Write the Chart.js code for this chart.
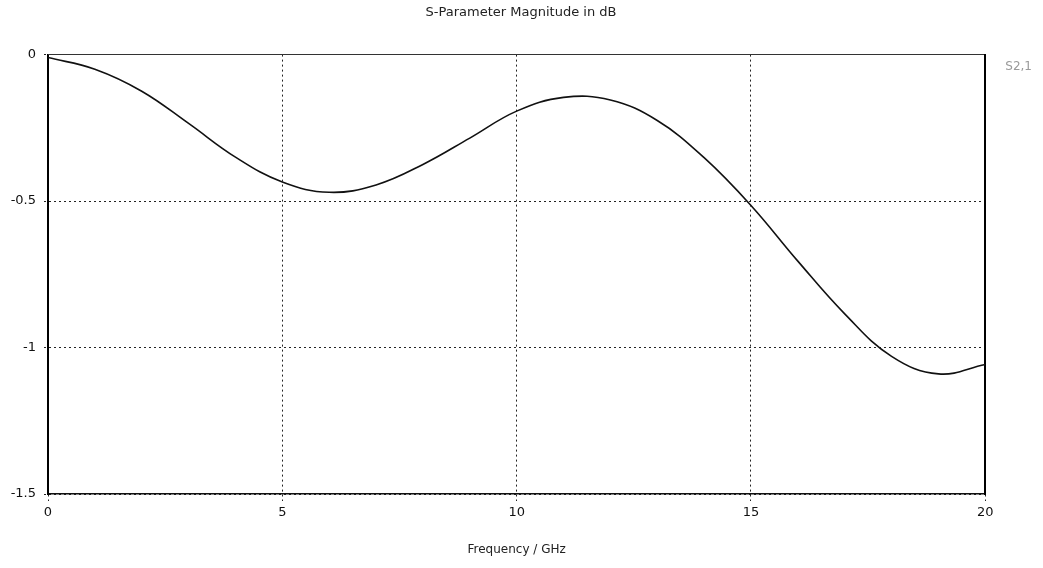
<!DOCTYPE html>
<html>
<head>
<meta charset="utf-8">
<script src="https://cdn.jsdelivr.net/npm/chart.js@4/dist/chart.umd.min.js"></script>
<style>
    body { margin: 0; background: #fff; }
    canvas { display: block; }
</style>
</head>
<body>
<canvas id="sparamChart" width="1043" height="568"></canvas>
<script>
// values, one per GHz
const freqs = [0, 1, 2, 3, 4, 5, 6, 7, 8, 9, 10, 11, 12, 13, 14, 15, 16, 17, 18, 19, 20];
const s21 = [-0.01, -0.05, -0.125, -0.235, -0.35, -0.435, -0.47, -0.445, -0.375, -0.285, -0.193,
    -0.146, -0.155, -0.225, -0.352, -0.515, -0.705, -0.885, -1.03, -1.09, -1.058];
const seriesLabel = 'S2,1';
const xTicks = [0, 5, 10, 15, 20];
const yTicks = [0, -0.5, -1, -1.5];

const points = freqs.map((f, i) => ({ x: f, y: s21[i] }));

const tickFont = { family: 'DejaVu Sans', size: 13 };

var ctx = document.getElementById('sparamChart').getContext('2d');
// eslint-disable-next-line no-undef
new Chart(ctx, {
    type: 'line',
    data: {
        datasets: [
            {
                label: seriesLabel,
                data: points,
                borderColor: '#111',
                borderWidth: 1.6,
                pointRadius: 0,
                tension: 0.4,
                fill: false,
            },
        ],
    },
    options: {
        responsive: false,
        animation: false,
        layout: { padding: { left: 0, right: 1, top: 0, bottom: 0 } },
        plugins: {
            title: {
                display: true,
                text: 'S-Parameter Magnitude in dB',
                color: '#222',
                font: { family: 'DejaVu Sans', size: 13, weight: 'normal' },
                padding: { top: 5, bottom: 26 },
            },
            legend: {
                position: 'right',
                align: 'start',
                fullSize: false,
                labels: {
                    boxWidth: 0,
                    boxHeight: 0,
                    padding: 6,
                    color: '#999',
                    font: { family: 'DejaVu Sans', size: 12 },
                    generateLabels: (chart) => chart.data.datasets.map((ds, i) => ({
                        text: ds.label,
                        fillStyle: 'rgba(0,0,0,0)',
                        strokeStyle: 'rgba(0,0,0,0)',
                        lineWidth: 0,
                        fontColor: '#999',
                        hidden: false,
                        datasetIndex: i,
                    })),
                },
            },
            tooltip: { enabled: false },
        },
        scales: {
            x: {
                type: 'linear',
                min: 0,
                max: 20,
                afterBuildTicks: (scale) => {
                    scale.ticks = xTicks.map((v) => ({ value: v }));
                },
                afterFit: (scale) => {
                    scale.height = 74;
                },
                ticks: { color: '#111', font: tickFont, padding: 4, callback: (v) => String(v) },
                grid: { color: '#222', lineWidth: 1, tickLength: 7, tickBorderDash: [2, 3] },
                border: { color: '#111', width: 1.5, dash: [2, 3] },
                title: {
                    display: true,
                    text: 'Frequency / GHz',
                    color: '#222',
                    font: { family: 'DejaVu Sans', size: 12 },
                    padding: { top: 0, bottom: 11 },
                },
            },
            y: {
                min: -1.5,
                max: 0,
                afterBuildTicks: (scale) => {
                    scale.ticks = yTicks.map((v) => ({ value: v }));
                },
                afterFit: (scale) => {
                    scale.width = 48;
                },
                ticks: { color: '#111', font: tickFont, padding: 8, callback: (v) => String(v) },
                grid: { color: '#222', lineWidth: 1, tickLength: 4, tickBorderDash: [2, 3] },
                border: { color: '#000', width: 2, dash: [2, 3] },
            },
            xTop: {
                type: 'linear',
                position: 'top',
                min: 0,
                max: 20,
                ticks: { display: false },
                grid: { display: false },
                border: { color: '#333', width: 1 },
            },
            yRight: {
                type: 'linear',
                position: 'right',
                min: -1.5,
                max: 0,
                ticks: { display: false },
                grid: { display: false },
                border: { color: '#000', width: 2 },
            },
        },
    },
});
</script>
</body>
</html>
